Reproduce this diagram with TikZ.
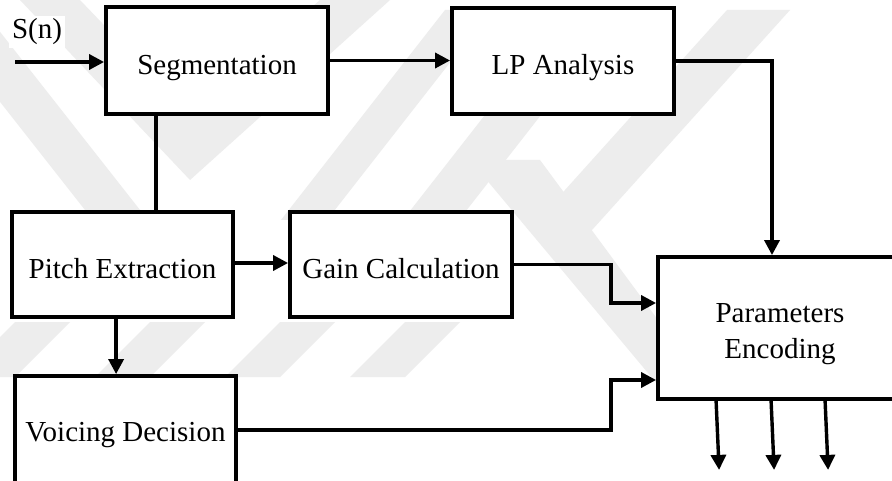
\documentclass[tikz,border=0pt]{standalone}
\usepackage{fontspec}
\setmainfont{Liberation Serif}
\usetikzlibrary{arrows.meta,calc}
% set a label a little lower without changing its box
\newcommand{\shiftdn}[2]{\raisebox{-#1}[\height][\depth]{#2}}
\begin{document}
\begin{tikzpicture}[x=1pt,y=-1pt,
  blk/.style={draw, line width=3.8pt, fill=white, inner sep=0pt,
    font=\fontsize{29}{36}\selectfont, align=center},
  wire/.style={line width=3.4pt},
  arr/.style={wire, -{Triangle[length=15pt,width=15pt]}},
  wm/.style={fill=black!7, draw=none}]

\useasboundingbox (0,0) rectangle (892,481);
\clip (0,0) rectangle (892,481);
\fill[white] (0,0) rectangle (892,481);

% faint logo in the background
\fill[wm] (20,0) -- (80,0) -- (190,115) -- (320,0) -- (390,0) -- (190,180) -- cycle;
\fill[wm] (-80,0) -- (-25,0) -- (140,210) -- (85,210) -- cycle;
\fill[wm] (445,10) -- (491,10) -- (327,220) -- (281,220) -- cycle;
\fill[wm] (567,10) -- (623,10) -- (455,225) -- (399,225) -- cycle;
\fill[wm] (727,10) -- (790,10) -- (592,230) -- (529,230) -- cycle;
\fill[wm] (470,160) -- (540,160) -- (658,320) -- (658,385) -- cycle;
\foreach \x in {-40,95,225,350}
  \fill[wm] (\x,377) -- (\x+55,377) -- (\x+110,322) -- (\x+55,322) -- cycle;

% blocks
\node[blk, minimum width=222pt, minimum height=107pt] (seg)   at (217,60.5)  {\shiftdn{7.5pt}{Segmentation}};
\node[blk, minimum width=222pt, minimum height=106pt] (lp)    at (563,61)    {\shiftdn{6.5pt}{LP Analysis}};
\node[blk, minimum width=221pt, minimum height=105pt] (pitch) at (122.5,264.5) {\shiftdn{4pt}{Pitch Extraction}};
\node[blk, minimum width=222pt, minimum height=105pt] (gain)  at (401,264.5) {\shiftdn{4pt}{Gain Calculation}};
\node[blk, minimum width=221pt, minimum height=114pt] (voice) at (125.5,433) {\shiftdn{2pt}{Voicing Decision}};
\node[blk, minimum width=244pt, minimum height=142pt] (param) at (780,328)
  {\shiftdn{5pt}{\begin{tabular}{@{}c@{}}Parameters\\Encoding\end{tabular}}};

% input signal
\node[fill=white, inner sep=3pt, font=\fontsize{29}{36}\selectfont] (sn) at (37,32) {S(n)};
\coordinate (src) at (15,62);
\draw[arr] (src) -- (src -| seg.west);

% connections
\draw[arr] (seg.east) -- (seg.east -| lp.west);
\draw[wire] ([xshift=52pt]seg.south west) -- ([xshift=146pt]pitch.north west);
\draw[arr] ([yshift=1.5pt]pitch.east) -- ([yshift=1.5pt]gain.west);
\draw[arr] ([xshift=106pt]pitch.south west) -- ([xshift=103pt]voice.north west);
\draw[arr] (lp.east) -| ([xshift=-8pt]param.north);
\draw[arr] (gain.east) -| ($(param.west)+(-45,-25)$) -- ([yshift=25pt]param.west);
\draw[arr] ([yshift=3pt]voice.east) -| ($(param.west)+(-45,52)$) -- ([yshift=-52pt]param.west);

% encoded outputs
\draw[arr] ([xshift=60pt]param.south west)  -- ($(param.south west)+(63,69)$);
\draw[arr] ([xshift=115pt]param.south west) -- ($(param.south west)+(118,69)$);
\draw[arr] ([xshift=169pt]param.south west) -- ($(param.south west)+(172,69)$);
\end{tikzpicture}
\end{document}
